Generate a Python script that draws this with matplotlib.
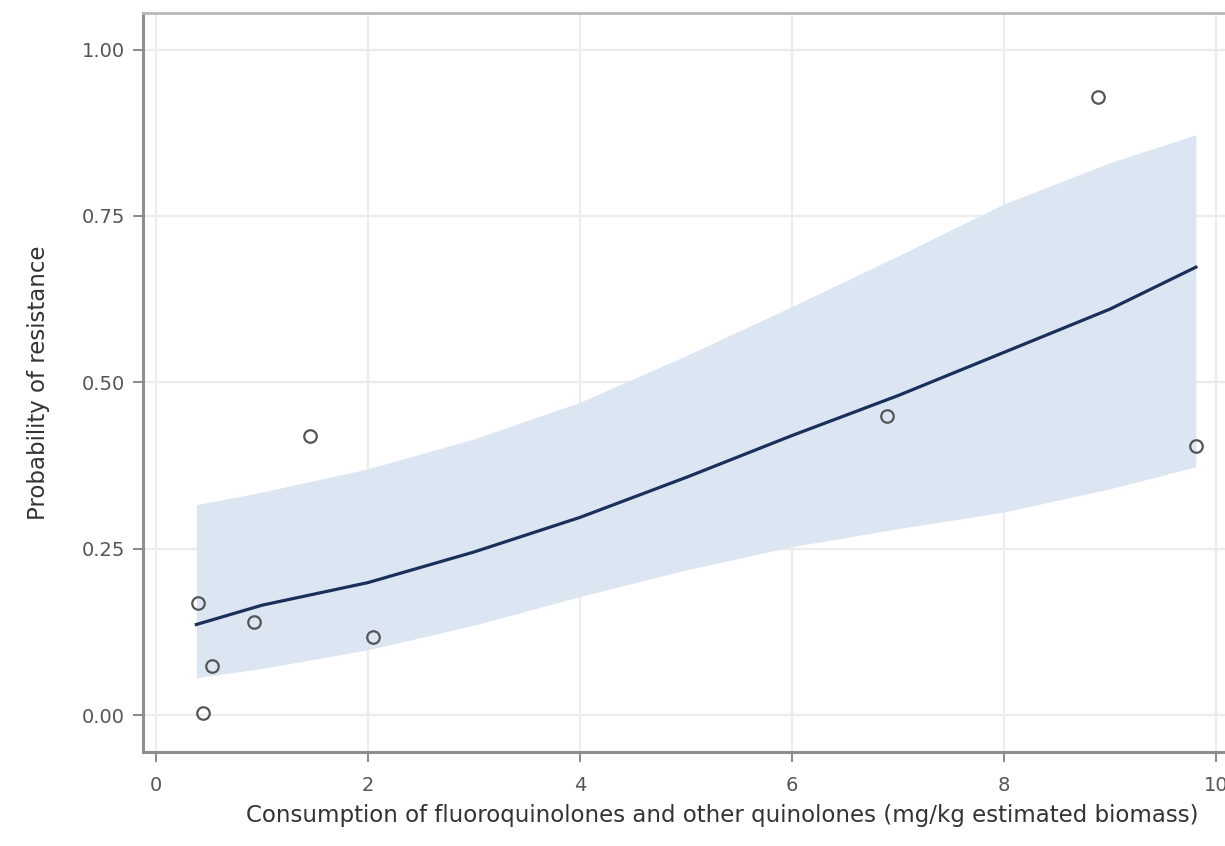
import numpy as np
import matplotlib.pyplot as plt

plt.rcParams['font.family'] = ['DejaVu Sans']

# observed points
obs_x = [0.40, 0.44, 0.53, 0.92, 1.45, 2.05, 6.90, 8.89, 9.81]
obs_y = [0.169, 0.003, 0.074, 0.140, 0.420, 0.117, 0.450, 0.929, 0.405]

# fitted probability and confidence band
fit_x = [0.38, 1, 2, 3, 4, 5, 6, 7, 8, 9, 9.81]
fit_y = [0.136, 0.165, 0.199, 0.245, 0.297, 0.357, 0.420, 0.480, 0.545, 0.610, 0.673]
ci_hi = [0.316, 0.335, 0.370, 0.415, 0.470, 0.540, 0.614, 0.690, 0.768, 0.830, 0.872]
ci_lo = [0.056, 0.070, 0.098, 0.135, 0.178, 0.218, 0.253, 0.280, 0.305, 0.340, 0.373]

xticks = [0, 2, 4, 6, 8, 10]
yticks = [0.0, 0.25, 0.5, 0.75, 1.0]

fig = plt.figure(figsize=(12.25, 8.46), dpi=100)
ax = fig.add_axes([143 / 1225, 1 - 752 / 846, 1 - 143 / 1225, (752 - 13) / 846])

ax.fill_between(fit_x, ci_lo, ci_hi, color='#dce6f2', lw=0, zorder=1)
ax.plot(fit_x, fit_y, color='#1a2f5a', lw=2.3, zorder=3)
ax.plot(obs_x, obs_y, 'o', mfc='none', mec='#555555', mew=1.6, ms=9, zorder=4)

ax.set_xlim(-0.123, 10.085)
ax.set_ylim(-0.0556, 1.055)
ax.set_xticks(xticks)
ax.set_yticks(yticks)
ax.set_yticklabels(['%.2f' % v for v in yticks])
ax.grid(True, color='#ececec', lw=1.6, zorder=0)
ax.set_axisbelow(True)

for s in ['left', 'bottom']:
    ax.spines[s].set_color('#8f8f8f')
    ax.spines[s].set_linewidth(2.2)
ax.spines['top'].set_color('#b8b8b8')
ax.spines['top'].set_linewidth(2)
ax.spines['right'].set_visible(False)

ax.tick_params(direction='out', length=7, width=1.2, color='#777777',
               labelcolor='#555555', labelsize=14, pad=6)
ax.tick_params(axis='x', pad=10)

ax.set_xlabel('Consumption of fluoroquinolones and other quinolones (mg/kg estimated biomass)',
              fontsize=16.5, color='#333333')
ax.xaxis.set_label_coords(0.535, -0.07)
ax.set_ylabel('Probability of resistance', fontsize=16.5, color='#333333', labelpad=23)

plt.savefig('out.png', dpi=100)
